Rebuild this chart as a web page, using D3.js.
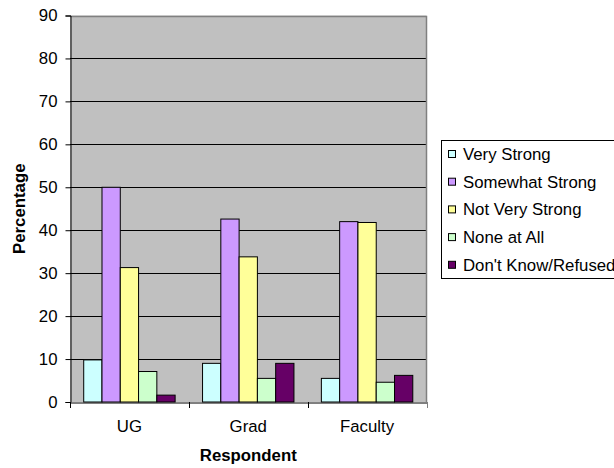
<!DOCTYPE html>
<html><head><meta charset="utf-8">
<script src="https://cdn.jsdelivr.net/npm/d3@7"></script>
<style>body{margin:0;background:#fff;} svg{display:block;font-family:Arial,"Liberation Sans",sans-serif;}</style>
</head><body>
<svg id="c" width="614" height="468"></svg>
<script>
const categories = ["UG", "Grad", "Faculty"];
const seriesNames = ["Very Strong", "Somewhat Strong", "Not Very Strong", "None at All", "Don't Know/Refused"];
const veryStrong = [9.8, 9.0, 5.5];
const somewhatStrong = [50.0, 42.6, 42.0];
const notVeryStrong = [31.3, 33.8, 41.8];
const noneAtAll = [7.1, 5.5, 4.6];
const dontKnow = [1.6, 9.0, 6.2];
const yTicks = [0, 10, 20, 30, 40, 50, 60, 70, 80, 90];
const colors = ["#CCFFFF", "#CC99FF", "#FFFF99", "#CCFFCC", "#660066"];
const seriesValues = [veryStrong, somewhatStrong, notVeryStrong, noneAtAll, dontKnow];

const FS = 16.8;
const FF = "Arial, 'Liberation Sans', sans-serif";
const svg = d3.select("#c");
const L = 70, R = 426.5, T = 15.5, B = 402;
const x0 = d3.scaleBand().domain(categories).range([L, R]).paddingInner(0).paddingOuter(0);
const bw = x0.bandwidth() / 6.5;
const x1 = d3.scaleBand().domain(seriesNames).range([0, bw * 5]);
const y = d3.scaleLinear().domain([0, 90]).range([B, T]);

// plot background
svg.append("rect").attr("x", L).attr("y", T).attr("width", R - L).attr("height", B - T).attr("fill", "#C0C0C0");
// gridlines
svg.append("g").selectAll("line").data(yTicks.filter(d => d > 0 && d < 90)).join("line")
  .attr("x1", L).attr("x2", R).attr("y1", d => Math.round(y(d)) + 0.5).attr("y2", d => Math.round(y(d)) + 0.5)
  .attr("stroke", "#000").attr("stroke-width", 1);
// border top/right gray
svg.append("path").attr("d", `M${L},${Math.round(T)+0.5}H${R}V${B}`).attr("fill", "none").attr("stroke", "#808080").attr("stroke-width", 1.5);

// bars
const rows = [];
categories.forEach((c, ci) => seriesNames.forEach((s, si) => rows.push({c, s, si, v: seriesValues[si][ci]})));
svg.append("g").selectAll("rect").data(rows).join("rect")
  .attr("x", d => x0(d.c) + bw * 0.75 + x1(d.s))
  .attr("y", d => y(d.v))
  .attr("width", x1.bandwidth())
  .attr("height", d => B - y(d.v))
  .attr("fill", d => colors[d.si])
  .attr("stroke", "#000").attr("stroke-width", 1);

// y axis
const yAxis = d3.axisLeft(y).tickValues(yTicks).tickSize(5).tickPadding(8);
const gy = svg.append("g").attr("transform", `translate(${L + 0.5},0)`).call(yAxis);
gy.select(".domain").attr("stroke", "#000");
gy.selectAll(".tick line").attr("stroke", "#000");
gy.selectAll("text").attr("font-size", FS).attr("fill", "#000").attr("font-family", FF);

// x axis
const xAxis = d3.axisBottom(x0).tickSize(0).tickPadding(18);
const gx = svg.append("g").attr("transform", `translate(0,${B + 0.5})`).call(xAxis);
gx.select(".domain").attr("stroke", "#000");
gx.selectAll("text").attr("font-size", FS).attr("fill", "#000").attr("font-family", FF);
// category separator ticks
svg.append("g").selectAll("line").data(categories.concat(["_end"])).join("line")
  .attr("x1", (d, i) => Math.round(L + i * x0.bandwidth()) + 0.5)
  .attr("x2", (d, i) => Math.round(L + i * x0.bandwidth()) + 0.5)
  .attr("y1", B).attr("y2", B + 6).attr("stroke", (d,i)=> i===3 ? "#808080" : "#000");

// axis titles
svg.append("text").attr("x", (L + R) / 2).attr("y", 461).attr("text-anchor", "middle")
  .attr("font-size", FS).attr("font-weight", "bold").attr("font-family", FF).text("Respondent");
svg.append("text").attr("transform", `translate(25,${(T + B) / 2}) rotate(-90)`).attr("text-anchor", "middle")
  .attr("font-size", FS).attr("font-weight", "bold").attr("font-family", FF).text("Percentage");

// legend
const lg = svg.append("g");
lg.append("rect").attr("x", 441.5).attr("y", 140.5).attr("width", 200).attr("height", 138).attr("fill", "#fff").attr("stroke", "#000");
const items = lg.selectAll("g.it").data(seriesNames).join("g").attr("class", "it")
  .attr("transform", (d, i) => `translate(0,${154 + i * 27.7})`);
items.append("rect").attr("x", 448.5).attr("y", -3.5).attr("width", 7).attr("height", 7)
  .attr("fill", (d, i) => colors[i]).attr("stroke", "#000");
items.append("text").attr("x", 463).attr("y", 0).attr("dy", "0.35em").attr("font-size", FS).attr("font-family", FF).text(d => d);
</script>
</body></html>
